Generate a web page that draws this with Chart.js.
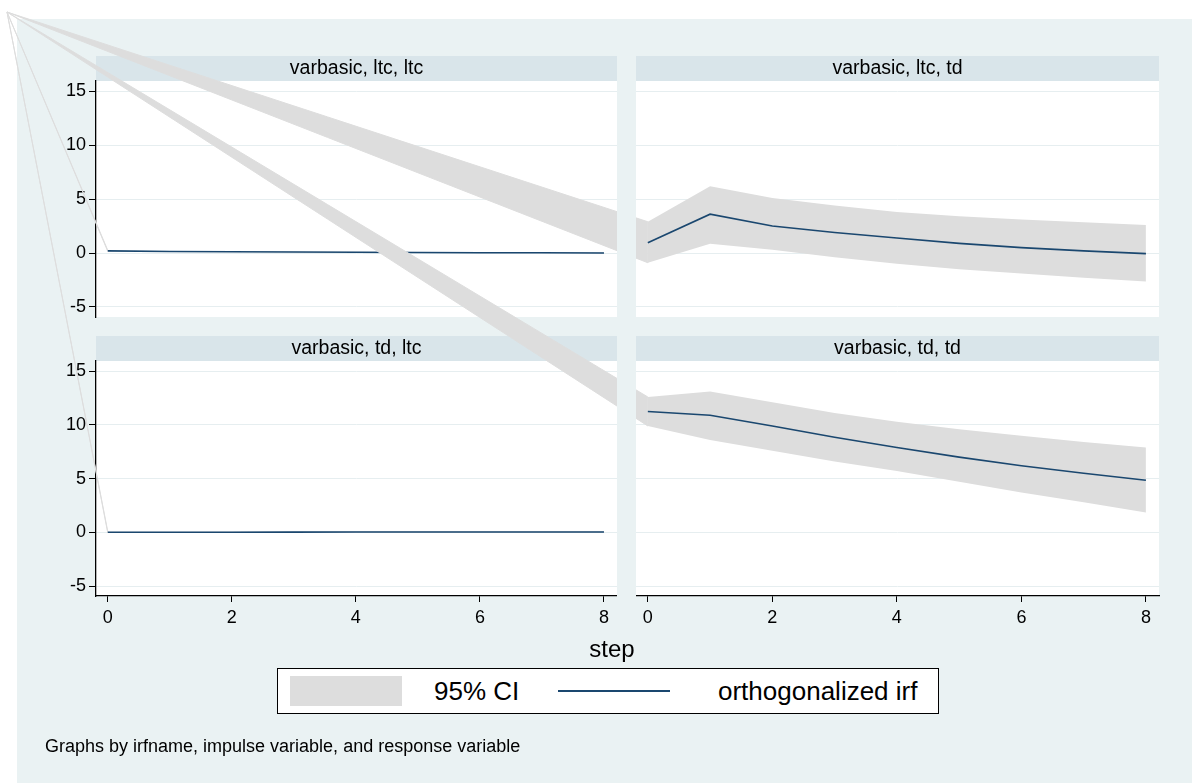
<!DOCTYPE html>
<html>
<head>
<meta charset="utf-8">
<script src="https://cdn.jsdelivr.net/npm/chart.js@4.4.1/dist/chart.umd.min.js"></script>
<style>
  html, body { margin: 0; padding: 0; background: #ffffff; }
  body { width: 1192px; height: 783px; position: relative; overflow: hidden;
         font-family: "Liberation Sans", Arial, Helvetica, sans-serif; color: #000; }
  #graphRegion { position: absolute; left: 17px; top: 19px; right: 0; bottom: 0; background: #EAF2F3; }
  canvas.panel { position: absolute; left: 0; top: 0; }
  #gapColumn { position: absolute; left: 617px; top: 56px; width: 19px; height: 545px; background: #EAF2F3; }
  #xTitle { position: absolute; left: 512px; width: 200px; top: 635px; text-align: center; font-size: 24px; }
  #legendBox { position: absolute; left: 277px; top: 668px; width: 660px; height: 44px;
               background: #fff; border: 1px solid #000; }
  .lgItem { position: absolute; top: 0; height: 44px; line-height: 44px; font-size: 26px; white-space: nowrap; }
  .swatch { position: absolute; }
  #note { position: absolute; left: 45px; top: 736px; font-size: 18px; }
</style>
</head>
<body>
<div id="graphRegion"></div>
<canvas class="panel" id="p0" width="1192" height="783"></canvas>
<canvas class="panel" id="p1" width="1192" height="783"></canvas>
<canvas class="panel" id="p2" width="1192" height="783"></canvas>
<canvas class="panel" id="p3" width="1192" height="783"></canvas>
<div id="gapColumn"></div>
<div id="xTitle"></div>
<div id="legendBox"></div>
<div id="note"></div>

<script>
// --- data ---
const STEPS = [0, 1, 2, 3, 4, 5, 6, 7, 8];
const X_TICKS = [0, 2, 4, 6, 8];
const Y_TICKS = [-5, 0, 5, 10, 15];
const PANEL_TITLES = ['varbasic, ltc, ltc', 'varbasic, ltc, td', 'varbasic, td, ltc', 'varbasic, td, td'];

// impulse ltc -> response ltc
const IRF_LTC_LTC = [0.2, 0.14, 0.12, 0.1, 0.08, 0.05, 0.03, 0.02, 0.01];
const LO_LTC_LTC  = [0.15, 0.09, 0.07, 0.05, 0.03, 0.0, -0.02, -0.03, -0.04];
const HI_LTC_LTC  = [0.25, 0.19, 0.17, 0.15, 0.13, 0.1, 0.08, 0.07, 0.06];
// impulse ltc -> response td
const IRF_LTC_TD = [0.95, 3.6, 2.5, 1.9, 1.4, 0.9, 0.5, 0.2, -0.05];
const LO_LTC_TD  = [-0.9, 0.85, 0.3, -0.4, -1.0, -1.5, -1.9, -2.3, -2.65];
const HI_LTC_TD  = [2.9, 6.2, 5.1, 4.4, 3.8, 3.4, 3.1, 2.85, 2.6];
// impulse td -> response ltc
const IRF_TD_LTC = [0, 0, 0, 0.02, 0.03, 0.03, 0.03, 0.03, 0.03];
const LO_TD_LTC  = [-0.05, -0.06, -0.07, -0.05, -0.05, -0.05, -0.05, -0.05, -0.05];
const HI_TD_LTC  = [0.05, 0.06, 0.07, 0.09, 0.1, 0.11, 0.11, 0.11, 0.11];
// impulse td -> response td
const IRF_TD_TD = [11.25, 10.9, 9.9, 8.85, 7.9, 7.0, 6.2, 5.5, 4.85];
const LO_TD_TD  = [9.9, 8.6, 7.6, 6.6, 5.7, 4.7, 3.7, 2.8, 1.85];
const HI_TD_TD  = [12.6, 13.1, 12.1, 11.1, 10.3, 9.6, 9.0, 8.4, 7.9];

const SERIES_NAMES = ['95% CI', 'orthogonalized irf'];
const X_TITLE = 'step';
const NOTE = 'Graphs by irfname, impulse variable, and response variable';

// --- styling ---
const FONT = '"Liberation Sans", Arial, Helvetica, sans-serif';
const BAND = '#DDDDDD';
const NAVY = '#1A476F';
const GRID = '#E6EEF0';
const STRIP = '#D9E5EA';
const X_RANGE = [-0.19, 8.21];
const Y_RANGE = [-5.93, 15.95];
const BAND_ORIGIN = { x: 7, y: 12 };   // where stata's band polygons start (export glitch)

// chart areas of the 4 panels on the page
const PANEL_AREAS = [
  { left: 96,  top: 81,  right: 617,  bottom: 317 },
  { left: 636, top: 81,  right: 1159, bottom: 317 },
  { left: 96,  top: 361, right: 617,  bottom: 596 },
  { left: 636, top: 361, right: 1159, bottom: 596 }
];
const Y_AXIS_W = 40;
const X_AXIS_H = 40;

const panels = [
  { irf: IRF_LTC_LTC, lo: LO_LTC_LTC, hi: HI_LTC_LTC, showX: false, showY: true },
  { irf: IRF_LTC_TD,  lo: LO_LTC_TD,  hi: HI_LTC_TD,  showX: false, showY: false },
  { irf: IRF_TD_LTC,  lo: LO_TD_LTC,  hi: HI_TD_LTC,  showX: true,  showY: true },
  { irf: IRF_TD_TD,   lo: LO_TD_TD,   hi: HI_TD_TD,   showX: true,  showY: false }
];

const toPoints = arr => STEPS.map((s, i) => ({ x: s, y: arr[i] }));

// white plot region + the title strip on top of it
const panelDeco = {
  id: 'panelDeco',
  beforeDraw(chart, args, opts) {
    const { ctx, chartArea: a } = chart;
    ctx.save();
    ctx.fillStyle = '#fff';
    ctx.fillRect(a.left, a.top, a.right - a.left, a.bottom - a.top);
    ctx.fillStyle = STRIP;
    ctx.fillRect(a.left, a.top - 25, a.right - a.left, 25);
    ctx.fillStyle = '#000';
    ctx.font = '19.5px ' + FONT;
    ctx.textAlign = 'center';
    ctx.textBaseline = 'middle';
    ctx.fillText(opts.title, (a.left + a.right) / 2, a.top - 12);
    ctx.restore();
  }
};

// the CI polygon leaks back to the page corner in the reference
const bandLeak = {
  id: 'bandLeak',
  beforeDatasetsDraw(chart) {
    const { ctx, scales } = chart;
    const hi = chart.data.datasets[0].data[0];
    const lo = chart.data.datasets[1].data[0];
    const x0 = scales.x.getPixelForValue(hi.x);
    ctx.save();
    ctx.beginPath();
    ctx.moveTo(BAND_ORIGIN.x, BAND_ORIGIN.y);
    ctx.lineTo(x0, scales.y.getPixelForValue(hi.y));
    ctx.lineTo(x0, scales.y.getPixelForValue(lo.y));
    ctx.closePath();
    ctx.fillStyle = BAND;
    ctx.strokeStyle = BAND;
    ctx.lineWidth = 1;
    ctx.fill();
    ctx.stroke();
    ctx.restore();
  }
};

function initPanel(idx) {
  const p = panels[idx];
  const area = PANEL_AREAS[idx];
  const ctx = document.getElementById('p' + idx).getContext('2d');
  const padLeft = p.showY ? area.left - Y_AXIS_W : area.left;
  const padBottom = p.showX ? 783 - area.bottom - X_AXIS_H : 783 - area.bottom;

  return new Chart(ctx, {
    type: 'line',
    data: {
      datasets: [
        { label: 'upper', data: toPoints(p.hi), borderWidth: 0, borderColor: 'rgba(0,0,0,0)',
          backgroundColor: BAND, fill: '+1', pointRadius: 0, order: 2 },
        { label: 'lower', data: toPoints(p.lo), borderWidth: 0, borderColor: 'rgba(0,0,0,0)',
          fill: false, pointRadius: 0, order: 1 },
        { label: SERIES_NAMES[1], data: toPoints(p.irf), borderColor: NAVY, borderWidth: 1.6,
          fill: false, pointRadius: 0, tension: 0, order: 0 }
      ]
    },
    options: {
      responsive: false,
      animation: false,
      devicePixelRatio: 1,
      layout: { padding: { left: padLeft, top: area.top, right: 1192 - area.right, bottom: padBottom } },
      plugins: {
        legend: { display: false },
        tooltip: { enabled: false },
        filler: { drawTime: 'beforeDatasetsDraw' },
        panelDeco: { title: PANEL_TITLES[idx] }
      },
      scales: {
        x: {
          type: 'linear',
          display: p.showX,
          min: X_RANGE[0], max: X_RANGE[1],
          afterBuildTicks: s => { s.ticks = X_TICKS.map(v => ({ value: v })); },
          afterFit: s => { s.height = p.showX ? X_AXIS_H : 0; },
          grid: { drawOnChartArea: false, drawTicks: true, tickLength: 6, tickColor: '#000', tickWidth: 1 },
          border: { display: true, color: '#000', width: 1.3 },
          ticks: { autoSkip: false, maxRotation: 0, color: '#000', padding: 5, font: { family: FONT, size: 18 } }
        },
        y: {
          type: 'linear',
          min: Y_RANGE[0], max: Y_RANGE[1],
          afterBuildTicks: s => { s.ticks = Y_TICKS.map(v => ({ value: v })); },
          afterFit: s => { s.width = p.showY ? Y_AXIS_W : 0; },
          grid: { color: GRID, lineWidth: 1, drawTicks: p.showY, tickLength: 7, tickColor: '#000', tickWidth: 1 },
          border: { display: p.showY, color: '#000', width: 1.3 },
          ticks: { display: p.showY, autoSkip: false, color: '#000', padding: 3, font: { family: FONT, size: 18 } }
        }
      }
    },
    plugins: [panelDeco, bandLeak]
  });
}

panels.forEach((p, i) => initPanel(i));

// axis title, legend and note
document.getElementById('xTitle').textContent = X_TITLE;
document.getElementById('note').textContent = NOTE;
const lg = document.getElementById('legendBox');
lg.innerHTML =
  '<div class="swatch" style="left:12px;top:7px;width:112px;height:30px;background:' + BAND + '"></div>' +
  '<div class="lgItem" style="left:156px">' + SERIES_NAMES[0] + '</div>' +
  '<div class="swatch" style="left:280px;top:21px;width:112px;height:2px;background:' + NAVY + '"></div>' +
  '<div class="lgItem" style="left:440px">' + SERIES_NAMES[1] + '</div>';
</script>
</body>
</html>
